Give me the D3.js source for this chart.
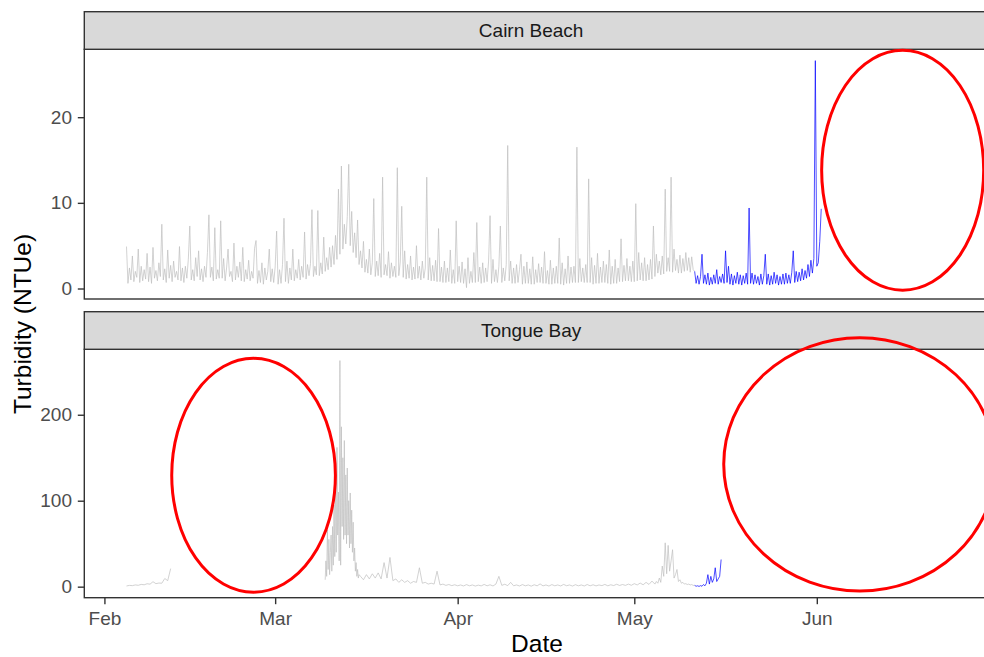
<!DOCTYPE html>
<html>
<head>
<meta charset="utf-8">
<script src="https://cdn.jsdelivr.net/npm/d3@7"></script>
<style>
  body { margin: 0; background: #fff; }
  svg { display: block; font-family: "Liberation Sans", Arial, sans-serif; }
</style>
</head>
<body>
<div id="chart"></div>
<script>
// facets and axis ticks
const sites = ["Cairn Beach", "Tongue Bay"];
const monthTicks = ["2020-02-01", "2020-03-01", "2020-04-01", "2020-05-01", "2020-06-01"];
const cairnTicks = [0, 10, 20];
const tongueTicks = [0, 100, 200];
const xLimits = ["2020-01-28T14:00Z", "2020-06-30T10:00Z"];

// Cairn Beach, one reading every 6 h, one row per day
const cairnGrayStart = "2020-02-04T18:00Z";
const cairnGray = [
  4.9, 0.6, 2.4, 1.0,   3.8, 0.8, 2.0, 1.3,   4.6, 0.7, 2.6, 0.9,
  2.2, 1.1, 4.1, 0.8,   2.5, 0.6, 4.8, 1.2,   2.1, 0.9, 3.0, 1.4,
  7.5, 1.0, 2.3, 0.7,   4.5, 1.2, 2.7, 0.8,   3.2, 1.3, 2.0, 1.0,
  4.9, 0.9, 2.4, 0.7,   2.6, 1.2, 3.4, 7.3,   1.0, 2.2, 0.9, 3.6,
  1.4, 4.4, 1.0, 2.3,   0.8, 2.6, 1.3, 4.2,   8.6, 1.3, 2.5, 0.9,
  7.1, 1.1, 2.2, 1.2,   7.9, 1.2, 3.5, 0.9,   2.4, 4.6, 1.4, 2.0,
  0.8, 5.3, 1.0, 2.6,   1.3, 3.1, 0.9, 4.8,   0.8, 2.2, 1.1, 3.3,
  0.9, 2.0, 1.2, 4.7,   5.6, 0.6, 2.1, 0.7,   3.0, 0.5, 2.4, 1.0,
  2.0, 4.6, 0.8, 2.3,   0.7, 2.5, 6.7, 0.5,   2.2, 0.6, 2.8, 8.2,
  0.8, 3.2, 0.6, 2.4,   1.0, 4.6, 0.9, 2.2,   1.2, 3.4, 1.0, 2.6,
  1.3, 6.6, 1.1, 2.8,   1.5, 2.9, 9.2, 1.4,   2.6, 1.6, 9.1, 1.5,
  3.0, 1.7, 6.0, 2.0,   3.6, 2.2, 4.8, 2.5,   5.0, 2.8, 6.2, 3.4,
  11.6, 4.0, 14.3, 4.6, 7.5, 5.2, 8.4, 14.5,  5.0, 9.0, 4.2, 6.5,
  3.6, 8.0, 2.8, 4.4,   2.4, 5.5, 1.9, 3.4,   1.8, 4.6, 1.6, 3.0,
  10.5, 1.4, 3.2, 1.5,  4.1, 1.3, 13.0, 1.6,  2.8, 1.5, 4.3, 1.2,
  3.0, 1.4, 2.6, 1.3,   14.1, 1.5, 3.1, 9.6,  1.3, 4.4, 1.1, 2.8,
  1.2, 3.8, 1.0, 2.5,   1.1, 5.0, 1.2, 2.6,   1.0, 3.2, 1.2, 2.4,
  13.0, 1.0, 3.6, 0.9,  2.7, 0.9, 3.3, 0.8,   7.0, 0.8, 2.5, 0.7,
  3.2, 0.7, 2.4, 0.8,   4.5, 0.6, 2.2, 0.6,   7.9, 0.8, 2.6, 0.7,
  3.1, 0.6, 2.3, 0.1,   3.6, 0.6, 2.0, 0.7,   4.2, 0.7, 7.7, 0.8,
  2.5, 0.6, 3.0, 0.7,   2.4, 0.8, 3.2, 8.5,   0.6, 3.4, 0.8, 2.2,
  0.7, 2.6, 7.3, 0.7,   2.4, 0.9, 2.8, 16.7,  0.9, 3.2, 0.6, 2.4,
  0.6, 2.8, 0.7, 2.2,   4.0, 0.5, 2.6, 0.6,   3.1, 0.6, 2.3, 0.5,
  3.7, 0.5, 2.2, 0.7,   2.9, 0.7, 2.5, 0.6,   4.3, 0.6, 2.1, 0.5,
  3.3, 0.5, 2.4, 0.6,   2.6, 0.6, 5.9, 0.5,   3.0, 0.4, 2.3, 0.6,
  3.8, 0.6, 2.5, 0.7,   2.6, 0.7, 16.5, 0.7,  3.5, 0.8, 2.4, 0.7,
  2.8, 0.7, 12.8, 0.7,  3.6, 0.5, 2.7, 0.6,   4.1, 0.6, 2.5, 0.7,
  3.2, 0.7, 2.8, 0.6,   4.5, 0.5, 2.6, 0.6,   3.4, 0.6, 2.4, 0.8,
  5.8, 0.8, 2.7, 0.9,   3.5, 0.9, 2.6, 0.8,   3.2, 0.8, 9.9, 0.9,
  4.2, 1.0, 3.0, 0.9,   3.6, 0.9, 2.8, 1.0,   3.4, 1.1, 7.3, 1.4,
  4.0, 1.8, 3.2, 1.6,   3.8, 1.7, 11.6, 2.0,  3.6, 2.0, 13.0, 1.9,
  4.6, 2.1, 3.4, 1.8,   3.9, 1.8, 3.5, 2.0,   4.2, 2.1, 3.6, 1.9,
  3.7, 2.2, 2.0
];
const cairnBlueStart = "2020-05-11T06:00Z"; // 6 h
const cairnBlue = [
  2.0, 0.6, 1.5, 0.5,   1.4, 4.0, 0.6, 1.6,   0.5, 1.8, 0.4, 1.3,
  0.5, 1.6, 0.6, 2.2,   0.5, 1.4, 0.7, 1.7,   0.6, 4.4, 0.7, 2.6,
  0.5, 1.7, 0.4, 1.5,   0.6, 1.9, 0.5, 1.6,   0.4, 1.5, 0.6, 1.8,
  0.5, 9.4, 0.6, 1.8,   0.5, 1.6, 0.6, 1.4,   0.4, 1.7, 0.5, 1.5,
  4.0, 0.5, 1.7, 0.4,   1.5, 0.5, 1.9, 0.6,   1.6, 0.4, 1.4, 0.5,
  1.7, 0.5, 1.8, 0.6,   1.6, 0.6, 1.9, 4.4,   0.7, 2.0, 0.8, 1.9,
  0.9, 2.3, 1.0, 2.1,   1.2, 2.8, 1.4, 3.3,   1.8, 3.5, 26.6, 2.6,
  3.0, 5.5, 9.3
];

// Tongue Bay
const tongueGrayAStart = "2020-02-04T18:00Z"; // 12 h
const tongueGrayA = [0.8, 1.5, 1.2, 2.0, 1.6, 2.6, 2.2, 3.4, 2.9, 5.8, 3.5, 4.2, 4.0, 9.5, 7.0, 21.0];
const tongueStormAStart = "2020-03-09T12:00Z"; // 3 h
const tongueStormA = [
  8, 30, 12, 66, 20, 55, 14, 40, 60, 18, 70, 25,
  95, 35, 120, 40, 162, 60, 110, 30, 263, 25, 186, 70,
  150, 55, 170, 60, 130, 50, 138, 60, 100, 45, 109, 50,
  89, 40, 75, 30, 45, 18, 28, 12, 20, 10, 14
];
const tongueGrayBStart = "2020-03-15T12:00Z"; // 12 h
const tongueGrayB = [
  12, 8, 14, 9, 15, 10, 16, 9, 28, 10,
  34, 7, 9, 5, 8, 5, 7, 4, 6, 5,
  22, 4, 5, 3, 4, 3, 18, 2, 3, 1.5,
  2.5, 1.2, 2.2, 1.0, 2.0, 0.8, 2.4, 1.0, 2.0, 0.7,
  1.8, 0.9, 2.6, 1.0, 2.2, 0.8, 3.0, 12, 1.5, 2.8,
  1.2, 5, 1.0, 2.0, 0.8, 2.4, 1.0, 2.0, 0.6, 2.2,
  1.0, 3.2, 0.9, 2.0, 0.7, 2.4, 1.0, 2.0, 0.8, 2.6,
  1.1, 2.0, 0.7, 2.3, 1.0, 2.0, 0.8, 2.5, 1.0, 2.2,
  0.9, 2.0, 1.2, 2.6, 1.0, 2.2, 1.3, 2.8, 1.4, 2.5,
  1.5, 3.0, 1.6, 3.5, 2.0, 4.2, 2.2, 5.0, 2.6, 6.5
];
const tongueStormBStart = "2020-05-04T12:00Z"; // 6 h
const tongueStormB = [
  3, 6, 4, 10, 5, 24, 12, 51, 15, 48, 18, 30, 43, 10,
  14, 20, 6, 8, 4, 5, 3, 3.5, 2.5, 3, 2, 2.5, 1.5, 1.5
];
const tongueBlueStart = "2020-05-11T06:00Z"; // 6 h
const tongueBlue = [1.5, 0.5, 1.0, 0.3, 1.2, 0.5, 2.5, 1.0, 4.0, 14, 3, 12, 5, 9, 22, 6, 9, 12, 31.6];

// red circles drawn over the plot (centre date / value, half width in days / value units)
const markPanel = [0, 1, 1];
const markDates = ["2020-06-15T14:00Z", "2020-02-26T08:00Z", "2020-06-08T07:00Z"];
const markValues = [13.8, 129.6, 142.3];
const markDays = [13.76, 13.9, 23.1];
const markSpan = [14.0, 136, 147.4];

function toSeries(start, stepHours, values) {
  const t0 = new Date(start).getTime();
  return values.map((v, i) => ({date: new Date(t0 + i * stepHours * 3600e3), value: v}));
}

const grey = "#bebebe", blue = "#0000ff";
const panelLines = [
  [
    {color: grey, pts: toSeries(cairnGrayStart, 6, cairnGray)},
    {color: blue, pts: toSeries(cairnBlueStart, 6, cairnBlue)}
  ],
  [
    {color: grey, pts: toSeries(tongueGrayAStart, 12, tongueGrayA)},
    {color: grey, pts: toSeries(tongueStormAStart, 3, tongueStormA)
        .concat(toSeries(tongueGrayBStart, 12, tongueGrayB))
        .concat(toSeries(tongueStormBStart, 6, tongueStormB))},
    {color: blue, pts: toSeries(tongueBlueStart, 6, tongueBlue)}
  ]
];

const W = 984, H = 657;
const left = 84.3, right = 990;
const layout = [
  {stripTop: 11.7, top: 49.3, bottom: 299, ticks: cairnTicks},
  {stripTop: 311.7, top: 349.3, bottom: 597.7, ticks: tongueTicks}
];

const svg = d3.select("#chart").append("svg")
  .attr("width", W).attr("height", H);

const x = d3.scaleUtc()
  .domain(xLimits.map(d => new Date(d)))
  .range([left, right]);

const yScales = [];

layout.forEach(function(p, k) {
  var lines = panelLines[k];
  var all = [];
  lines.forEach(l => l.pts.forEach(d => all.push(d.value)));
  var ext = d3.extent(all);
  var pad = (ext[1] - ext[0]) * 0.05;  // ggplot default expansion
  var y = d3.scaleLinear().domain([ext[0] - pad, ext[1] + pad]).range([p.bottom, p.top]);
  yScales.push(y);

  var g = svg.append("g");
  g.append("rect")
    .attr("x", left).attr("y", p.top)
    .attr("width", right - left).attr("height", p.bottom - p.top)
    .attr("fill", "#fff");

  var line = d3.line().x(d => x(d.date)).y(d => y(d.value));
  g.selectAll("path.series")
    .data(lines)
    .join("path")
      .attr("class", "series")
      .attr("d", d => line(d.pts))
      .attr("fill", "none")
      .attr("stroke", d => d.color)
      .attr("stroke-width", 0.7)
      .attr("stroke-linejoin", "round");

  g.append("rect")
    .attr("x", left).attr("y", p.top)
    .attr("width", right - left).attr("height", p.bottom - p.top)
    .attr("fill", "none").attr("stroke", "#333").attr("stroke-width", 1.4);

  // strip
  g.append("rect")
    .attr("x", left).attr("y", p.stripTop)
    .attr("width", right - left).attr("height", p.top - p.stripTop)
    .attr("fill", "#d9d9d9").attr("stroke", "#333").attr("stroke-width", 1.4);
  g.append("text")
    .attr("x", (left + 984) / 2 - 3)
    .attr("y", (p.stripTop + p.top) / 2)
    .attr("dy", "0.35em")
    .attr("text-anchor", "middle")
    .attr("font-size", 19)
    .attr("fill", "#1a1a1a")
    .text(sites[k]);

  // y axis
  var ax = g.append("g")
    .attr("transform", "translate(" + left + ",0)")
    .call(d3.axisLeft(y).tickValues(p.ticks).tickSize(6.5).tickPadding(5.8));
  ax.select(".domain").remove();
  ax.selectAll("line").attr("stroke", "#333").attr("stroke-width", 1.4);
  ax.selectAll("text")
    .attr("font-family", "Liberation Sans, Arial, sans-serif")
    .attr("font-size", 19).attr("fill", "#4d4d4d");
});

// shared x axis under the bottom panel
var xa = svg.append("g")
  .attr("transform", "translate(0," + layout[1].bottom + ")")
  .call(d3.axisBottom(x)
    .tickValues(monthTicks.map(d => new Date(d + "T00:00Z")))
    .tickFormat(d3.utcFormat("%b"))
    .tickSize(6.5).tickPadding(7.5));
xa.select(".domain").remove();
xa.selectAll("line").attr("stroke", "#333").attr("stroke-width", 1.4);
xa.selectAll("text")
  .attr("font-family", "Liberation Sans, Arial, sans-serif")
  .attr("font-size", 19).attr("fill", "#4d4d4d");

// axis titles
svg.append("text")
  .attr("transform", "translate(22.5,324) rotate(-90)")
  .attr("dy", "0.35em")
  .attr("text-anchor", "middle")
  .attr("font-size", 24.5)
  .attr("fill", "#000")
  .text("Turbidity (NTUe)");
svg.append("text")
  .attr("x", 537).attr("y", 651.5)
  .attr("text-anchor", "middle")
  .attr("font-size", 24.5)
  .attr("fill", "#000")
  .text("Date");

// red circles
var dayMs = 864e5;
svg.selectAll("ellipse.mark")
  .data(markDates.map((d, i) => ({date: new Date(d), value: markValues[i], days: markDays[i], span: markSpan[i], panel: markPanel[i]})))
  .join("ellipse")
    .attr("class", "mark")
    .attr("cx", d => x(d.date))
    .attr("cy", d => yScales[d.panel](d.value))
    .attr("rx", d => x(new Date(d.date.getTime() + d.days * dayMs)) - x(d.date))
    .attr("ry", d => yScales[d.panel](0) - yScales[d.panel](d.span))
    .attr("fill", "none")
    .attr("stroke", "#ff0000")
    .attr("stroke-width", 3);
</script>
</body>
</html>
